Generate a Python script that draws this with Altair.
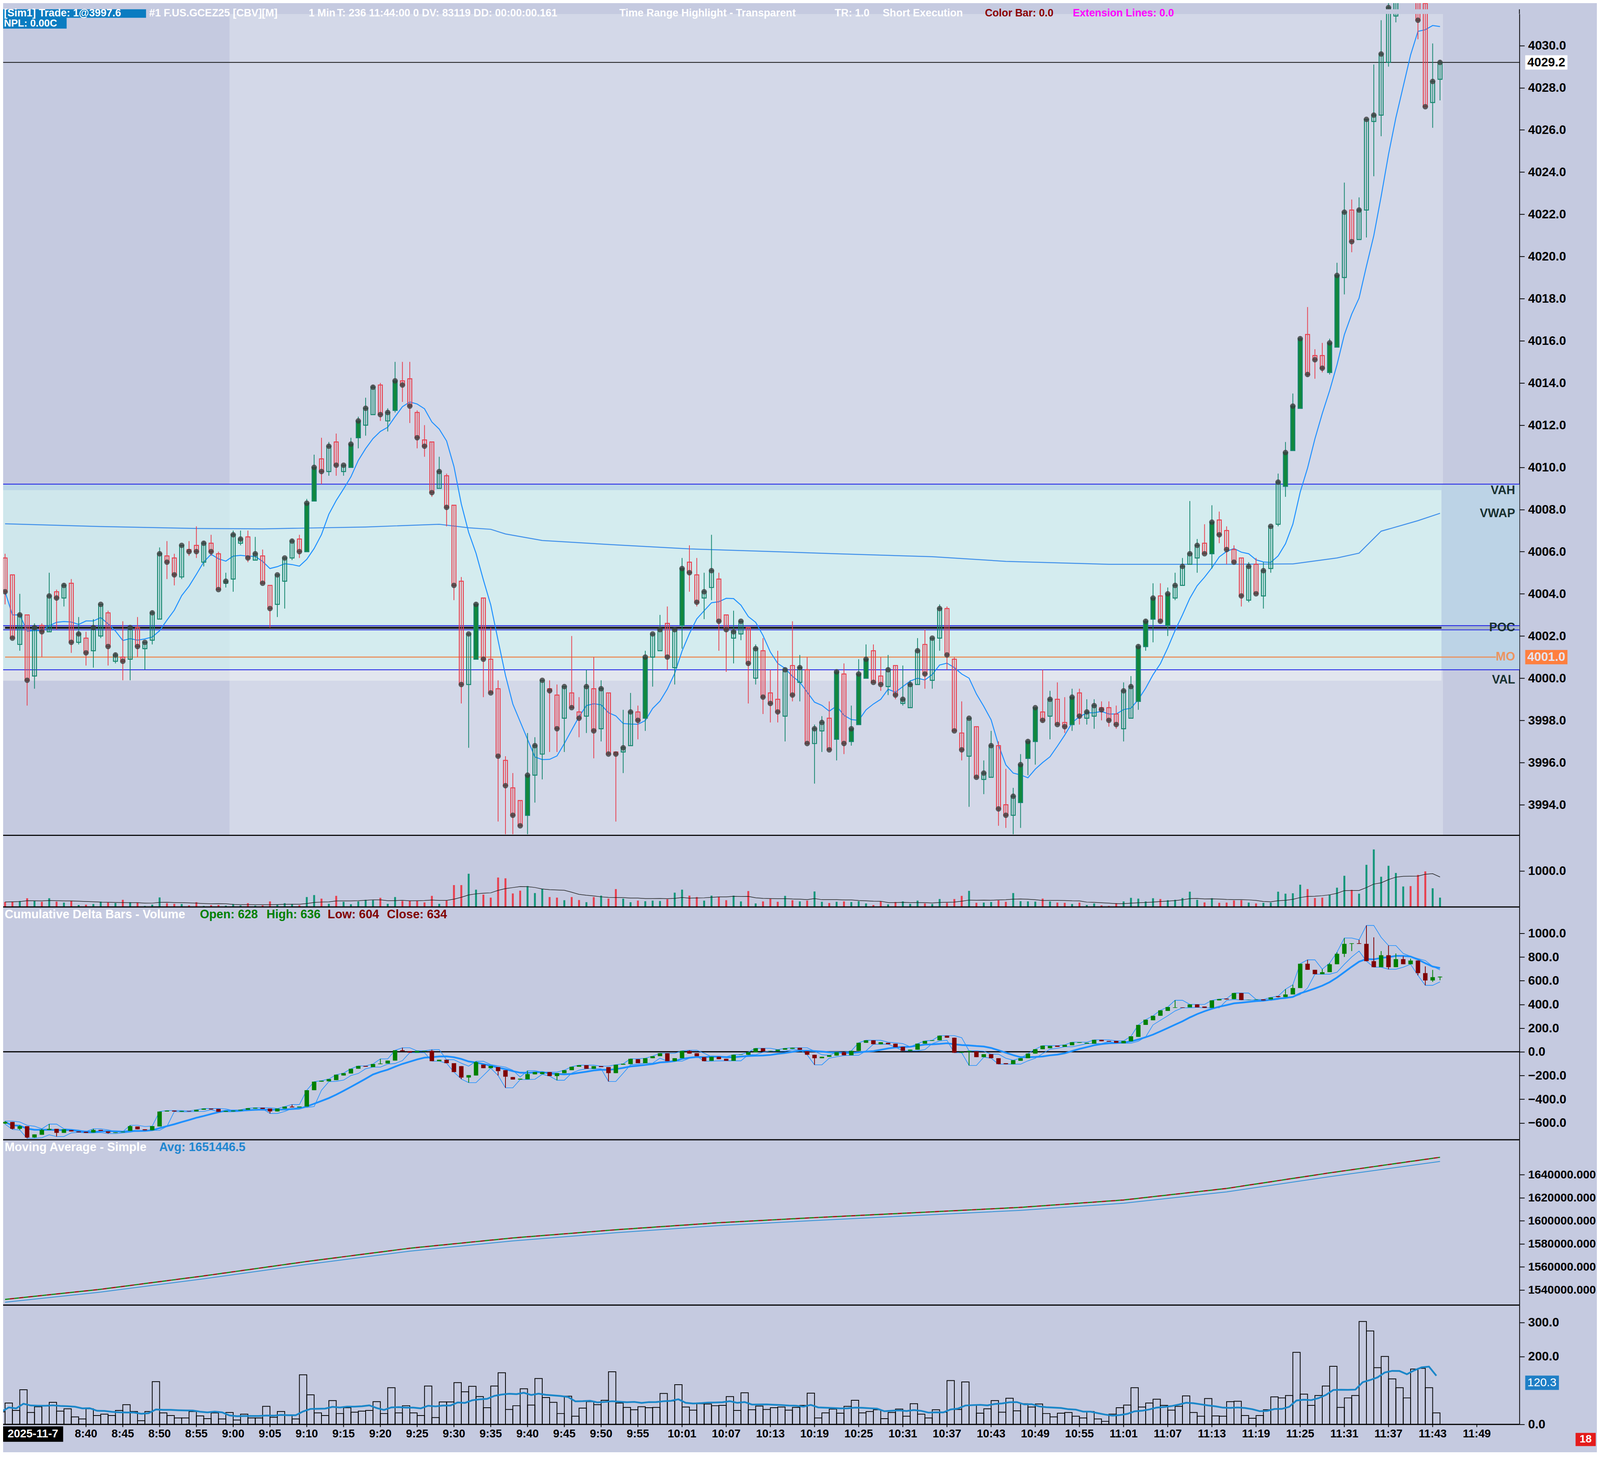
import altair as alt
import numpy as np
import pandas as pd

# ------------------------------------------------------------------ data
# 1-minute bars, bar 0 = 8:29 ... bar 195 = 11:44
OPEN = [4005.7,4004.9,4001.6,4003.0,4000.1,4002.5,4002.2,4004.1,4003.8,4004.5,
        4001.7,4001.9,4001.3,4002.0,4003.1,4000.8,4001.0,4000.9,4002.4,4001.4,
        4001.8,4002.8,4005.8,4005.7,4004.8,4006.1,4006.3,4005.5,4006.4,4005.9,
        4004.5,4004.7,4006.4,4006.7,4005.6,4005.8,4004.4,4003.5,4004.6,4005.7,
        4006.6,4006.0,4008.4,4010.4,4009.8,4011.2,4009.8,4010.0,4011.4,4012.0,
        4012.5,4013.9,4012.2,4012.7,4014.1,4014.2,4012.6,4011.3,4011.2,4009.0,
        4009.6,4008.2,4004.6,3999.7,4000.9,4003.8,4000.9,3999.5,3996.1,3994.8,
        3994.2,3993.5,3995.4,3996.4,3999.5,3999.2,3998.1,3999.3,3998.4,3998.2,
        3999.5,3997.6,3999.3,3996.5,3996.5,3996.8,3998.4,3998.1,4001.0,4001.3,
        4002.6,4000.5,4002.5,4005.5,4004.9,4003.8,4004.3,4004.7,4003.0,4001.9,
        4002.1,4002.4,4000.0,4001.3,3999.3,3999.0,3998.2,4000.6,3999.8,4000.4,
        3996.9,3997.5,3998.1,3997.1,4000.2,3997.0,3997.8,4000.0,4001.3,4000.1,
        3999.6,4000.6,3998.8,3998.6,3999.7,4001.6,3999.9,4001.9,4003.3,4000.9,
        3997.4,3996.3,3997.7,3995.2,3995.3,3996.8,3994.0,3993.5,3994.1,3996.2,
        3997.0,3998.4,3998.2,3999.0,3997.9,3997.8,3999.3,3998.1,3998.2,3998.6,
        3998.6,3998.3,3997.6,3998.1,3998.9,4001.5,4002.8,4003.9,4002.5,4003.8,
        4004.4,4005.4,4005.7,4006.4,4005.9,4007.5,4007.0,4006.1,4005.7,4003.7,
        4005.4,4003.9,4005.2,4007.3,4009.1,4010.8,4012.8,4016.3,4015.3,4015.3,
        4014.5,4015.7,4019.0,4022.2,4020.8,4022.2,4026.4,4026.7,4029.2,4031.4,
        4033.0,4034.0,4032.6,4032.0,4027.3,4028.4]
HIGH = [4005.9,4004.9,4004.0,4003.0,4002.6,4002.6,4005.0,4004.2,4004.5,4004.7,
        4002.9,4002.2,4002.8,4003.5,4003.2,4001.2,4002.7,4002.4,4002.9,4001.7,
        4003.2,4006.2,4006.5,4005.9,4006.3,4006.5,4007.2,4006.5,4006.8,4006.0,
        4005.0,4007.0,4007.0,4007.0,4006.7,4006.1,4004.4,4004.9,4005.7,4006.6,
        4006.8,4008.5,4010.6,4011.4,4011.2,4011.6,4010.1,4011.4,4012.4,4013.3,
        4013.9,4014.0,4012.8,4015.0,4015.0,4015.0,4012.7,4012.0,4011.2,4010.5,
        4009.7,4008.2,4004.8,4002.1,4003.6,4003.8,4002.4,3999.9,3996.3,3995.5,
        3994.2,3997.4,3997.2,3999.9,3999.9,3999.7,3999.6,4002.0,3999.1,4000.4,
        4001.0,3999.9,3999.3,3996.5,3998.5,3999.3,3998.7,4001.3,4002.1,4003.0,
        4003.4,4002.4,4005.7,4006.3,4005.7,4005.0,4006.8,4005.0,4003.0,4003.2,
        4002.7,4002.4,4001.6,4001.9,4000.4,4001.3,4000.4,4002.7,4001.1,4001.0,
        3997.8,3998.2,3998.9,4000.4,4000.7,3998.7,4000.9,4001.6,4001.6,4001.0,
        4001.1,4000.6,4000.6,3999.9,4001.9,4002.3,4001.9,4003.5,4003.4,4001.0,
        3998.9,3998.1,3997.7,3996.1,3997.5,3997.0,3995.7,3994.8,3996.4,3997.1,
        3998.6,4000.4,3999.4,3999.8,3999.1,3999.5,3999.5,3999.0,3999.0,3998.9,
        3998.9,3998.7,3999.8,4000.1,4001.6,4002.8,4004.5,4004.5,4004.3,4005.0,
        4005.7,4008.4,4006.6,4007.3,4008.2,4007.9,4007.2,4006.3,4005.7,4005.5,
        4005.7,4005.5,4007.2,4009.7,4011.2,4013.5,4016.2,4017.6,4015.6,4015.9,
        4016.1,4019.7,4023.5,4022.7,4022.8,4026.5,4029.1,4031.2,4032.6,4033.5,
        4034.6,4034.8,4033.2,4032.5,4030.1,4029.3]
LOW = [4003.5,4001.9,4001.3,3998.7,3999.5,4001.0,4002.2,4002.3,4003.4,4001.2,
       4001.6,4000.6,4000.5,4001.9,4000.6,4000.7,3999.9,3999.9,4001.0,4000.4,
       4001.6,4002.8,4004.7,4004.4,4004.7,4005.8,4005.7,4005.3,4005.8,4004.2,
       4004.3,4004.1,4006.3,4005.5,4005.6,4004.5,4002.4,4002.9,4003.3,4005.6,
       4005.7,4006.0,4008.4,4009.2,4009.6,4009.6,4009.6,4010.0,4010.9,4011.5,
       4012.5,4012.2,4011.7,4012.6,4013.1,4012.1,4010.9,4010.5,4008.6,4009.0,
       4007.2,4003.7,3998.8,3996.7,4000.9,3999.1,3999.3,3993.2,3992.6,3992.6,
       3993.0,3992.6,3994.1,3995.2,3996.5,3996.5,3996.5,3998.6,3997.2,3997.4,
       3996.2,3997.0,3996.4,3993.2,3995.5,3996.8,3997.1,3997.5,3999.6,4001.3,
       4000.4,3999.7,4001.4,4004.1,4003.4,4002.8,4003.7,4001.3,4000.3,4000.7,
       4001.8,3998.8,3999.7,3998.3,3997.9,3997.9,3997.0,3998.9,3998.9,3996.9,
       3995.0,3996.5,3996.6,3996.1,3996.4,3996.8,3997.8,4000.0,3999.8,3999.4,
       3999.2,3999.0,3998.7,3998.6,3999.7,3999.5,3999.5,4001.3,4000.4,3997.5,
       3996.1,3993.9,3995.3,3994.5,3995.3,3993.0,3992.9,3992.6,3992.9,3995.4,
       3995.9,3997.9,3997.1,3997.8,3997.4,3997.5,3997.8,3997.8,3997.6,3998.0,
       3997.7,3997.6,3997.0,3998.1,3998.5,4001.3,4001.7,4002.6,4002.0,4003.7,
       4004.4,4005.4,4005.0,4005.9,4005.2,4006.4,4005.4,4005.4,4003.4,4003.6,
       4004.0,4003.3,4005.0,4007.2,4008.6,4010.8,4012.8,4014.3,4014.2,4014.5,
       4014.4,4015.7,4018.2,4020.2,4020.8,4020.9,4023.8,4025.7,4029.0,4031.1,
       4032.4,4032.2,4030.3,4027.1,4026.1,4027.4]
CLOSE = [4004.1,4001.9,4003.0,3999.9,4002.4,4002.2,4003.9,4003.8,4004.4,4001.7,
         4002.1,4001.2,4002.4,4003.5,4001.5,4001.1,4000.8,4002.4,4001.5,4001.7,
         4003.1,4005.9,4005.5,4004.9,4006.3,4006.0,4006.0,4006.4,4006.0,4004.2,
         4004.6,4006.8,4006.6,4005.7,4005.9,4004.5,4003.3,4004.9,4005.7,4006.5,
         4006.0,4008.3,4010.0,4009.8,4011.0,4010.1,4010.1,4011.1,4012.2,4012.8,
         4013.8,4012.5,4012.6,4014.1,4013.9,4012.9,4011.4,4011.0,4008.8,4009.8,
         4008.1,4004.4,3999.7,4002.1,4003.5,4000.9,3999.3,3996.3,3994.9,3993.5,
         3993.0,3995.4,3996.8,3999.9,3999.4,3997.6,3999.6,3998.6,3998.1,3999.6,
         3997.5,3999.5,3996.4,3996.4,3996.7,3998.4,3998.0,4001.0,4002.1,4002.3,
         4001.0,4002.3,4005.2,4005.0,4003.6,4004.1,4005.1,4002.7,4002.3,4002.2,
         4002.7,4000.7,4001.4,3999.1,3998.8,3998.4,4000.4,3999.2,4000.5,3996.9,
         3997.6,3997.9,3996.6,4000.3,3996.9,3997.6,4000.2,4000.9,3999.8,3999.7,
         4000.4,3999.2,3999.0,3999.7,4001.3,4000.2,4001.9,4003.3,4001.1,3997.5,
         3996.6,3998.1,3995.3,3995.5,3996.8,3993.8,3993.5,3994.4,3995.9,3997.0,
         3998.6,3998.0,3999.0,3997.8,3997.7,3999.1,3998.2,3998.4,3998.7,3998.5,
         3998.0,3997.8,3999.4,3999.6,4001.5,4002.7,4003.8,4002.7,4004.0,4004.4,
         4005.3,4005.9,4006.3,4005.9,4007.4,4006.8,4006.1,4005.5,4003.9,4005.3,
         4004.0,4005.1,4007.2,4009.3,4010.7,4012.9,4016.1,4014.4,4015.1,4014.7,
         4015.9,4019.1,4022.1,4020.7,4022.2,4026.5,4026.7,4029.6,4031.8,4033.0,
         4034.0,4032.6,4031.2,4027.1,4028.3,4029.2]
FILLED_BARS = [41, 42, 47, 48, 53, 64, 71, 87, 92, 113, 115, 116, 117, 138, 139, 140,
               145, 154, 155, 156, 158, 164, 174, 175, 176, 180, 181]

VOL_TOP = [138,149,166,243,166,144,243,149,122,166, 55,66,83,149,122,110,199,133,122,28,
           66,265,105,88,83,44,133,28,50,55, 39,83,44,105,39,44,155,61,105,83,
           50,276,331,232,88,309,144,77,155,199, 188,254,88,276,166,166,166,127,309,88,
           177,608,608,923,481,343,260,818,796,376, 453,580,387,508,276,260,188,276,193,133,
           276,315,232,497,232,133,177,160,177,166, 215,398,481,315,276,177,315,276,188,315,
           155,442,99,155,226,144,309,188,155,177, 431,144,110,144,155,138,160,99,55,155,
           72,138,155,88,177,99,83,221,116,221, 309,448,116,122,138,182,144,387,160,155,
           149,232,155,122,116,83,122,55,99,44, 28,105,155,254,232,155,243,221,188,199,
           249,425,199,127,243,116,122,182,188,122, 99,116,122,425,370,381,619,497,249,260,
           343,536,867,475,370,1171,1597,840,1144,945, 569,580,890,989,519,260]
VOL_BOT = [37,63,41,102,35,52,54,65,39,46, 22,16,46,26,30,26,41,58,38,11,
           38,126,34,26,19,19,38,25,17,34, 16,35,13,30,19,19,53,21,38,26,
           16,146,87,34,26,70,32,49,36,39, 41,67,32,108,34,55,34,26,113,20,
           66,66,123,96,112,82,49,113,152,44, 55,105,57,135,79,65,32,83,24,48,
           67,58,71,155,63,50,43,52,49,50, 91,69,117,51,42,61,60,55,56,82,
           41,93,43,54,44,49,51,42,50,56, 92,19,34,45,33,53,71,34,38,43,
           17,35,45,24,61,30,19,43,36,129, 44,125,56,33,46,70,36,77,40,61,
           51,60,32,22,33,35,24,19,38,16, 9,30,49,57,108,51,63,74,56,42,
           53,84,35,24,76,25,24,67,68,26, 18,26,43,81,78,85,212,89,56,85,
           113,171,50,78,85,303,275,167,200,134, 108,78,163,165,108,34]

CD_OPEN = [-605,-592,-650,-628,-723,-700,-659,-650,-684,-661, -672,-675,-681,-659,-672,-684,-679,-667,-630,-654,
           -662,-630,-504,-496,-506,-499,-503,-489,-479,-482, -506,-503,-496,-489,-479,-472,-479,-503,-479,-462,
           -469,-462,-324,-252,-249,-239,-200,-183,-143,-119, -129,-104,-99,-74,13,5,-7,2,8,-79,
           -67,-96,-121,-217,-200,-108,-138,-129,-155,-213, -234,-232,-190,-188,-171,-205,-180,-155,-126,-113,
           -143,-121,-129,-180,-109,-104,-62,-96,-54,-37, -12,-79,-54,8,-12,-45,-76,-42,-59,-76,
           -25,-25,-3,30,5,5,18,25,34,5, -25,-54,-42,-32,-3,-29,8,76,97,64,
           76,69,42,8,18,69,92,97,136,119, -8,0,5,-45,-20,-54,-96,-104,-76,-54,
           -15,22,30,52,42,55,76,69,69,101, 92,92,72,89,126,227,266,304,345,371,
           375,375,400,382,371,434,449,445,496,437, 439,442,442,470,462,484,538,743,692,655,
           672,739,827,911,916,911,765,714,815,714, 782,739,770,664,602,628]
CD_HIGH = [-585,-592,-620,-628,-697,-650,-610,-650,-654,-661, -672,-675,-650,-659,-672,-679,-674,-620,-630,-654,
           -627,-504,-496,-496,-499,-499,-489,-479,-479,-482, -499,-496,-489,-476,-472,-472,-479,-479,-462,-445,
           -462,-324,-252,-244,-230,-193,-180,-143,-119,-119, -103,-60,-74,13,34,5,8,8,18,-67,
           -67,-96,-121,-197,-80,-108,-119,-129,-155,-213, -227,-160,-171,-171,-171,-180,-155,-126,-113,-113,
           -121,-121,-129,-109,-101,-59,-62,-54,-37,-12, -12,-54,8,13,-12,-45,-42,-42,-59,-25,
           -22,-3,30,30,8,18,30,34,34,5, -25,-42,-29,-3,-3,8,76,97,97,81,
           76,69,42,18,69,92,97,136,136,119, 0,8,5,-20,-20,-54,-96,-71,-54,-15,
           22,52,50,52,59,81,81,76,101,101, 92,92,92,131,227,271,304,350,378,435,
           375,400,400,382,434,445,449,496,496,439, 442,442,459,470,528,566,743,776,692,697,
           749,840,960,916,945,1066,966,850,897,830, 806,786,770,721,691,636]
CD_LOW = [-610,-655,-660,-730,-725,-700,-659,-715,-684,-672, -679,-684,-681,-667,-690,-684,-679,-667,-654,-662,
          -662,-630,-504,-504,-506,-503,-503,-489,-486,-506, -506,-503,-496,-489,-479,-482,-520,-503,-479,-469,
          -469,-462,-324,-252,-249,-239,-200,-183,-143,-126, -129,-104,-99,-74,5,-7,-7,2,-79,-79,
          -96,-171,-230,-260,-200,-138,-138,-200,-304,-234, -234,-232,-190,-188,-205,-240,-180,-155,-126,-143,
          -143,-129,-250,-180,-109,-104,-96,-96,-54,-37, -79,-79,-54,-15,-37,-79,-76,-62,-76,-76,
          -25,-25,-3,5,5,5,18,25,17,-25, -110,-54,-42,-32,-29,-29,8,76,64,64,
          64,39,8,8,18,69,92,97,119,-8, -8,-115,-45,-45,-54,-104,-104,-104,-76,-54,
          -15,22,30,42,42,55,76,69,69,89, 86,76,72,89,126,227,266,304,345,371,
          371,375,375,371,371,434,442,445,437,437, 439,434,442,459,462,484,538,692,655,655,
          672,739,800,850,911,765,714,714,697,714, 739,739,645,561,590,604]
CD_CLOSE = [-592,-650,-628,-723,-697,-659,-650,-684,-654,-672, -679,-684,-659,-667,-684,-679,-674,-627,-654,-662,
            -627,-504,-496,-504,-499,-503,-489,-479,-486,-506, -499,-496,-489,-476,-472,-482,-503,-479,-462,-469,
            -462,-324,-252,-244,-230,-193,-180,-143,-119,-126, -103,-99,-74,13,5,-7,8,8,-79,-67,
            -96,-171,-217,-197,-87,-138,-119,-163,-210,-234, -227,-188,-171,-171,-205,-180,-155,-126,-113,-143,
            -121,-129,-180,-109,-101,-59,-96,-54,-37,-12, -79,-54,8,-15,-37,-79,-42,-62,-76,-25,
            -22,-3,30,5,8,18,30,34,17,-25, -54,-42,-29,-3,-29,8,76,97,64,81,
            64,39,8,18,69,92,97,136,119,-8, 0,8,-45,-20,-54,-104,-104,-71,-54,-15,
            22,52,50,42,59,81,81,76,101,89, 86,76,92,131,227,271,304,350,378,375,
            371,400,375,371,434,445,442,496,437,439, 442,434,459,462,484,538,743,692,655,672,
            739,827,911,916,911,765,714,815,714,782, 739,770,664,602,630,634]

VWAP_BARS = [0, 13, 26, 35, 49, 59, 63, 66, 68, 73, 83, 93, 102, 113, 126, 136, 150, 165, 175, 181, 184, 187, 192, 195]
VWAP_VALS = [4007.32, 4007.19, 4007.10, 4007.08, 4007.17, 4007.30, 4007.13, 4007.06, 4006.84, 4006.53,
             4006.32, 4006.13, 4006.03, 4005.90, 4005.76, 4005.54, 4005.40, 4005.40, 4005.42, 4005.70,
             4005.93, 4006.97, 4007.47, 4007.82]

MA_BARS = [0, 13, 27, 41, 55, 69, 83, 97, 110, 124, 138, 152, 166, 180, 195]
MA_AVG = [1529400, 1538200, 1549700, 1562100, 1573600, 1582500, 1589600, 1595800, 1600200,
          1604600, 1609000, 1615200, 1625000, 1638200, 1651400]
MA_SRC = [1531800, 1540600, 1552200, 1564700, 1576200, 1585100, 1592200, 1598300, 1602700,
          1607100, 1611600, 1618000, 1628000, 1641500, 1655000]

TICK_BARS = [11, 16, 21, 26, 31, 36, 41, 46, 51, 56, 61, 66, 71, 76, 81, 86, 92, 98, 104, 110,
             116, 122, 128, 134, 140, 146, 152, 158, 164, 170, 176, 182, 188, 194, 200]
TICK_LABELS = ["8:40", "8:45", "8:50", "8:55", "9:00", "9:05", "9:10", "9:15", "9:20", "9:25",
               "9:30", "9:35", "9:40", "9:45", "9:50", "9:55", "10:01", "10:07", "10:13", "10:19",
               "10:25", "10:31", "10:37", "10:43", "10:49", "10:55", "11:01", "11:07", "11:13", "11:19",
               "11:25", "11:31", "11:37", "11:43", "11:49"]

HEADER_PARTS = ["#1 F.US.GCEZ25 [CBV][M]", "1 Min", "T: 236 11:44:00 0 DV: 83119 DD: 00:00:00.161",
                "Time Range Highlight - Transparent", "TR: 1.0", "Short Execution"]
HEADER_X = [377, 789, 862, 1591, 2147, 2271]

VAH, VAL, POC_HI, POC_LO, POC, MO, LAST = 4009.2, 4000.4, 4002.49, 4002.29, 4002.39, 4001.0, 4029.2
LEVEL_TEXT = ["VAH", "VWAP", "POC", "MO", "VAL"]
LEVEL_PRICE = [4008.9, 4007.8, 4002.4, 4001.0, 3999.92]
RANGE_START, RANGE_END = 30.5, 195.4   # time-range highlight (9:00 -> end)

# ------------------------------------------------------------------ layout
FONT = "Liberation Sans"
BG = "#c5cae0"
HL = "#d3d8e8"
W = 3915
PAD_R, PAD_B = 200, 56
X0 = -5 / 19.0
X1 = (W - 5) / 19.0
H_HEAD, H_PRICE, H_VOL, H_CD, H_MA, H_VOL2 = 12, 2121, 185, 601, 427, 308
T_PRICE = H_HEAD
T_VOL = T_PRICE + H_PRICE
T_CD = T_VOL + H_VOL
T_MA = T_CD + H_CD
T_VOL2 = T_MA + H_MA
H_ALL = T_VOL2 + H_VOL2
P_TOP = 4031.50
P_BOT = P_TOP - H_PRICE / 54.45

df = pd.DataFrame({"i": list(range(len(OPEN))), "o": OPEN, "h": HIGH, "l": LOW, "c": CLOSE,
                   "vt": VOL_TOP, "vb": VOL_BOT,
                   "co": CD_OPEN, "ch": CD_HIGH, "cl": CD_LOW, "cc": CD_CLOSE})
df["dir"] = np.where(df["c"] >= df["o"], "up", "down")
df["cdir"] = np.where(df["cc"] >= df["co"], "up", "down")
df["filled"] = df["i"].isin(FILLED_BARS)

ONE = pd.DataFrame({"k": [0]})
XS = alt.Scale(domain=[X0, X1], nice=False, zero=False)


def raxis(values, fmt, size=32):
    return alt.Axis(orient="right", values=values, format=fmt, title=None, grid=False,
                    domainColor="black", domainWidth=2, tickColor="black", tickSize=13,
                    tickWidth=2, labelFont=FONT, labelFontWeight="bold", labelFontSize=size,
                    labelColor="black", labelPadding=9, labelFlush=False, labelLimit=0,
                    labelOverlap=False, labelBound=False)


def xq(f):
    return alt.X(f, type="quantitative", scale=XS, axis=None)


def pix_text(txt, x, y, color, size=31, weight="bold", align="left"):
    return alt.Chart(ONE).mark_text(text=txt, color=color, fontSize=size, fontWeight=weight,
                                    align=align, baseline="middle", font=FONT).encode(
        x=alt.value(x), y=alt.value(y))


def pix_rect(x1, x2, y1, y2, color):
    return alt.Chart(ONE).mark_rect(color=color).encode(
        x=alt.value(x1), x2=alt.value(x2), y=alt.value(y1), y2=alt.value(y2))


def pix_hline(y, color, w, x1=0, x2=W):
    return alt.Chart(ONE).mark_rule(color=color, strokeWidth=w).encode(
        x=alt.value(x1), x2=alt.value(x2), y=alt.value(y))


CANDLE = alt.Scale(domain=["up", "down"], range=["#14866d", "#e8404f"])
base = alt.Chart(df)

# ------------------------------------------------------------------ price panel
YP = alt.Scale(domain=[P_BOT, P_TOP], range=[T_VOL, T_PRICE], nice=False, zero=False)
AXP = raxis(list(range(3994, 4031, 2)), ".1f")


def yp(f):
    return alt.Y(f, type="quantitative", scale=YP, axis=AXP)


zones = pd.DataFrame({
    "x1": [X0, X0, X0, RANGE_END - 0.2, X0],
    "x2": [RANGE_END - 0.2, RANGE_END - 0.2, RANGE_END - 0.2, X1, X1],
    "y1": [VAL, 3999.88, 4008.92, VAL, POC_LO],
    "y2": [VAH, VAL, VAH, VAH, POC_HI],
    "kind": ["va", "below", "top", "ext", "poc"],
})


def zone(kind, color, opacity):
    return alt.Chart(zones).transform_filter(alt.datum.kind == kind).mark_rect(
        color=color, opacity=opacity).encode(x=xq("x1"), x2="x2:Q", y=yp("y1"), y2="y2:Q")


hl = alt.Chart(pd.DataFrame({"x1": [RANGE_START], "x2": [RANGE_END]})).mark_rect(color=HL).encode(
    x=xq("x1"), x2="x2:Q", y=alt.value(T_PRICE), y2=alt.value(T_VOL))

full_lines = alt.Chart(pd.DataFrame({"p": [VAH, VAL, POC_HI, POC_LO]})).mark_rule(
    color="#1414e6", strokeWidth=2).encode(y=yp("p"), x=alt.value(0), x2=alt.value(W))
last_line = alt.Chart(pd.DataFrame({"p": [LAST]})).mark_rule(color="#111111", strokeWidth=2).encode(
    y=yp("p"), x=alt.value(0), x2=alt.value(W))
poc_line = alt.Chart(pd.DataFrame({"x1": [0], "x2": [RANGE_END - 0.2], "p": [POC]})).mark_rule(
    color="#1a1a1a", strokeWidth=5).encode(x=xq("x1"), x2="x2:Q", y=yp("p"))
mo_line = alt.Chart(pd.DataFrame({"x1": [0], "x2": [202.6], "p": [MO]})).mark_rule(
    color="#e9915f", strokeWidth=3).encode(x=xq("x1"), x2="x2:Q", y=yp("p"))

vwap = alt.Chart(pd.DataFrame({"i": VWAP_BARS, "v": VWAP_VALS})).mark_line(
    color="#3f8fea", strokeWidth=2.5).encode(x=xq("i"), y=yp("v"))
sma = base.transform_window(sma="mean(c)", frame=[-7, 0]).mark_line(
    color="#1e90ff", strokeWidth=2.5).encode(x=xq("i"), y=yp("sma"))

wicks = base.mark_rule(strokeWidth=2).encode(
    x=xq("i"), y=yp("l"), y2="h:Q", color=alt.Color("dir:N", scale=CANDLE, legend=None))
bodies = base.transform_calculate(xl="datum.i - 0.27", xr="datum.i + 0.27").mark_rect(
    fillOpacity=0, strokeWidth=2.5).encode(
    x=xq("xl"), x2="xr:Q", y=yp("o"), y2="c:Q",
    stroke=alt.Stroke("dir:N", scale=CANDLE, legend=None))
filled = base.transform_filter("datum.filled").transform_calculate(
    xl="datum.i - 0.27", xr="datum.i + 0.27").mark_rect(
    fill="#12883c", stroke="#14866d", strokeWidth=2.5).encode(
    x=xq("xl"), x2="xr:Q", y=yp("o"), y2="c:Q")
dots = base.mark_circle(size=200, color="#3a3a3a", opacity=0.78).encode(
    x=xq("i"), y=yp("c"))

lev_df = pd.DataFrame({"t": LEVEL_TEXT, "p": LEVEL_PRICE})
levels_dark = alt.Chart(lev_df).transform_filter(alt.datum.t != "MO").mark_text(
    align="right", baseline="middle", font=FONT, fontWeight="bold", fontSize=31,
    color="#18302f").encode(x=alt.value(3904), y=yp("p"), text="t:N")
levels_mo = alt.Chart(lev_df).transform_filter(alt.datum.t == "MO").mark_text(
    align="right", baseline="middle", font=FONT, fontWeight="bold", fontSize=31,
    color="#ec9460").encode(x=alt.value(3904), y=yp("p"), text="t:N")

boxes = pd.DataFrame({"p": [LAST, MO], "t": ["4029.2", "4001.0"]})


def axis_box(label, fill, ink):
    sub = alt.Chart(boxes).transform_filter(alt.datum.t == label)
    r = sub.transform_calculate(p1="datum.p - 0.34", p2="datum.p + 0.34").mark_rect(
        color=fill).encode(x=alt.value(3930), x2=alt.value(4039), y=yp("p1"), y2="p2:Q")
    t = sub.mark_text(font=FONT, fontWeight="bold", fontSize=32, align="center",
                      baseline="middle", color=ink).encode(x=alt.value(3984.5), y=yp("p"), text="t:N")
    return r + t


price = alt.layer(
    hl,
    zone("va", "#d5f9f4", 0.62), zone("below", "#eef3f3", 0.55), zone("top", "#b6d3e8", 0.8),
    zone("ext", "#bcd3e6", 1.0), zone("poc", "#a7b9ca", 1.0),
    full_lines, poc_line, mo_line, last_line, vwap, sma,
    wicks, bodies, filled, dots, levels_dark, levels_mo,
    axis_box("4029.2", "white", "black"), axis_box("4001.0", "#ff7f3f", "#e4e4f2"),
)

# ------------------------------------------------------------------ header (drawn over price overflow)
HEAD_Y, HEAD_SIZE = 10, 27
head_df = pd.DataFrame({"t": HEADER_PARTS, "x": HEADER_X})
head_text = alt.Chart(head_df).mark_text(
    font=FONT, fontWeight="bold", fontSize=HEAD_SIZE, align="left", baseline="middle",
    color="white").encode(x=alt.X("x:Q", scale=None, axis=None), y=alt.value(HEAD_Y), text="t:N")
header = alt.layer(
    pix_rect(0, W, 0, T_PRICE, BG),
    pix_rect(0, 164, T_PRICE, T_PRICE + 38, "#0a7cc1"),
    pix_rect(0, 369, 0, 22, "#0a7cc1"),
    pix_text("[Sim1]  Trade: 1@3997.6", 2, HEAD_Y, "white", size=HEAD_SIZE),
    head_text,
    pix_text("Color Bar: 0.0", 2535, HEAD_Y, "#8b0000", size=HEAD_SIZE),
    pix_text("Extension Lines: 0.0", 2762, HEAD_Y, "#ff00ff", size=HEAD_SIZE),
    alt.Chart(ONE).mark_rule(color="black", strokeWidth=2).encode(
        x=alt.value(W), y=alt.value(0), y2=alt.value(T_PRICE)),
    pix_text("NPL: 0.00C", 2, T_PRICE + 25, "white", size=26),
)

# ------------------------------------------------------------------ volume panel (top)
YV = alt.Scale(domain=[0, H_VOL / 0.093], range=[T_CD, T_VOL], nice=False, zero=False)
AXV = raxis([1000], ".1f")
VCOL = alt.Scale(domain=["up", "down"], range=["#14967a", "#e8404f"])
vol_bars = base.transform_calculate(xl="datum.i - 0.13", xr="datum.i + 0.13").mark_rect().encode(
    x=xq("xl"), x2="xr:Q",
    y=alt.Y("vt:Q", scale=YV, axis=AXV), y2=alt.value(T_CD),
    color=alt.Color("dir:N", scale=VCOL, legend=None))
vol_ma = base.transform_window(m="mean(vt)", frame=[-9, 0]).mark_line(
    color="#222222", strokeWidth=1.5).encode(x=xq("i"), y=alt.Y("m:Q", scale=YV, axis=AXV))
vol_panel = alt.layer(vol_bars, vol_ma)

# ------------------------------------------------------------------ cumulative delta panel
YD = alt.Scale(domain=[-742, 1222], range=[T_MA, T_CD], nice=False, zero=False)
AXD = raxis(list(range(-600, 1001, 200)), ".1f")
DCOL = alt.Scale(domain=["up", "down"], range=["#008000", "#800000"])


def yd(f):
    return alt.Y(f, type="quantitative", scale=YD, axis=AXD)


zero = alt.Chart(pd.DataFrame({"z": [0]})).mark_rule(color="black", strokeWidth=3).encode(
    y=yd("z"), x=alt.value(0), x2=alt.value(W))
chan = base.transform_window(up="max(ch)", lo="min(cl)", frame=[-1, 0])
chan_up = chan.mark_line(color="#1e90ff", strokeWidth=1.6).encode(x=xq("i"), y=yd("up"))
chan_lo = chan.mark_line(color="#1e90ff", strokeWidth=1.6).encode(x=xq("i"), y=yd("lo"))
cd_ma = base.transform_window(m="mean(cc)", frame=[-9, 0]).mark_line(
    color="#1e90ff", strokeWidth=4.5).encode(x=xq("i"), y=yd("m"))
cd_wick = base.mark_rule(strokeWidth=2).encode(
    x=xq("i"), y=yd("cl"), y2="ch:Q", color=alt.Color("cdir:N", scale=DCOL, legend=None))
cd_body = base.transform_calculate(xl="datum.i - 0.3", xr="datum.i + 0.3").mark_rect().encode(
    x=xq("xl"), x2="xr:Q", y=yd("co"), y2="cc:Q",
    color=alt.Color("cdir:N", scale=DCOL, legend=None))
cd_panel = alt.layer(zero, chan_up, chan_lo, cd_ma, cd_wick, cd_body)

# ------------------------------------------------------------------ moving average panel
YM = alt.Scale(domain=[1526900, 1670200], range=[T_VOL2, T_MA], nice=False, zero=False)
AXM = raxis(list(range(1540000, 1640001, 20000)), ".3f", size=30)
ma_df = pd.DataFrame({"i": MA_BARS, "avg": MA_AVG, "src": MA_SRC})
ma_line = alt.Chart(ma_df).mark_line(color="#2a8fd8", strokeWidth=2).encode(
    x=xq("i"), y=alt.Y("avg:Q", scale=YM, axis=AXM))
ma_src_g = alt.Chart(ma_df).mark_line(color="#118a11", strokeWidth=3, strokeDash=[12, 12]).encode(
    x=xq("i"), y=alt.Y("src:Q", scale=YM, axis=AXM))
ma_src_r = alt.Chart(ma_df).mark_line(color="#a01010", strokeWidth=3, strokeDash=[12, 12],
                                      strokeDashOffset=12).encode(
    x=xq("i"), y=alt.Y("src:Q", scale=YM, axis=AXM))
ma_panel = alt.layer(ma_src_g, ma_src_r, ma_line)

# ------------------------------------------------------------------ volume panel (bottom)
YB = alt.Scale(domain=[0, H_VOL2 / 0.877], range=[H_ALL, T_VOL2], nice=False, zero=False)
AXB = raxis([0, 200, 300], ".1f")
vb_rect = base.transform_calculate(xa="datum.i - 1", xb="datum.i").mark_rect(
    fillOpacity=0, stroke="black", strokeWidth=2, clip=True).encode(
    x=xq("xa"), x2="xb:Q", y=alt.Y("vb:Q", scale=YB, axis=AXB), y2=alt.value(H_ALL))
vb_ma = base.transform_window(m="mean(vb)", frame=[-9, 0]).transform_calculate(
    xm="datum.i - 0.5").mark_line(color="#1a86c8", strokeWidth=4.5, clip=True).encode(
    x=xq("xm"), y=alt.Y("m:Q", scale=YB, axis=AXB))
vol2_panel = alt.layer(vb_rect, vb_ma)

# ------------------------------------------------------------------ frame, legends, time axis
ticks_df = pd.DataFrame({"i": TICK_BARS, "t": TICK_LABELS})
tick_marks = alt.Chart(ticks_df).mark_rule(color="black", strokeWidth=2).encode(
    x=xq("i"), y=alt.value(H_ALL), y2=alt.value(H_ALL + 7))
tick_text = alt.Chart(ticks_df).mark_text(font=FONT, fontWeight="bold", fontSize=29,
                                          baseline="middle", align="center", color="black").encode(
    x=xq("i"), y=alt.value(H_ALL + 25), text="t:N")

overlay = alt.layer(
    pix_hline(T_VOL, "black", 3), pix_hline(T_CD, "black", 3), pix_hline(T_MA, "black", 3),
    pix_hline(T_VOL2, "black", 3), pix_hline(H_ALL, "black", 3),
    pix_text("Cumulative Delta Bars - Volume", 4, T_CD + 20, "white"),
    pix_text("Open: 628", 508, T_CD + 20, "#008000"),
    pix_text("High: 636", 680, T_CD + 20, "#008000"),
    pix_text("Low: 604", 838, T_CD + 20, "#800000"),
    pix_text("Close: 634", 991, T_CD + 20, "#800000"),
    pix_text("Moving Average - Simple", 4, T_MA + 20, "white"),
    pix_text("Avg: 1651446.5", 403, T_MA + 20, "#1f86d0"),
    tick_marks, tick_text,
    pix_rect(0, 155, H_ALL + 5, H_ALL + 45, "black"),
    pix_text("2025-11-7", 77, H_ALL + 25, "white", size=29, weight="bold", align="center"),
    pix_rect(3930, 4017, T_VOL2 + 182, T_VOL2 + 219, "#1f7fc6"),
    pix_text("120.3", 3973, T_VOL2 + 200.5, "white", size=30, weight="normal", align="center"),
    pix_rect(4060, 4112, H_ALL + 22, H_ALL + 56, "#e41b1b"),
    pix_text("18", 4086, H_ALL + 39, "white", size=28, weight="bold", align="center"),
)

chart = alt.layer(
    price, header, vol_panel, cd_panel, ma_panel, vol2_panel, overlay
).resolve_scale(
    y="independent", color="independent", stroke="independent"
).properties(
    width=W, height=H_ALL,
    autosize=alt.AutoSizeParams(type="none"),
    padding={"left": 0, "top": 0, "right": PAD_R, "bottom": PAD_B},
    background=BG,
).configure_view(stroke=None)

chart.save("out.html", embed_options={"renderer": "svg", "actions": False})
